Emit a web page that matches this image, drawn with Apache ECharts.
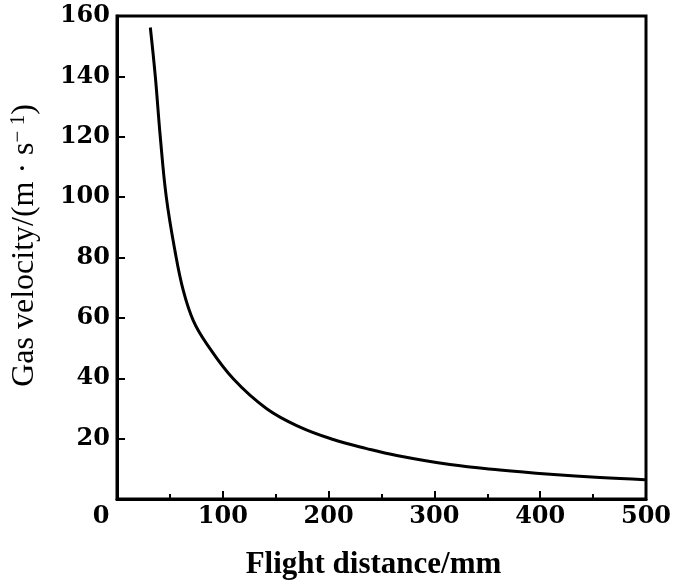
<!DOCTYPE html>
<html>
<head>
<meta charset="utf-8">
<script src="https://cdn.jsdelivr.net/npm/echarts@6/dist/echarts.min.js"></script>
<style>
  html, body { margin: 0; padding: 0; background: #fff; }
  #main { width: 686px; height: 582px; }
</style>
</head>
<body>
<div id="main"></div>
<script>
// flight distance (mm) and gas velocity (m/s)
var distance = [31.5, 36.2, 40.9, 46.6, 54.8, 62.7, 72.1, 84.8, 109.9, 141.5, 173, 204.4, 236, 264.4, 314.7, 362, 409.3, 456.5, 499];
var velocity = [156.2, 140, 120, 100, 82.2, 69, 59.1, 51.4, 39.8, 29.9, 23.8, 19.7, 16.7, 14.4, 11.4, 9.6, 8.2, 7.1, 6.4];
var xTicks = [0, 100, 200, 300, 400, 500];
var yTicks = [20, 40, 60, 80, 100, 120, 140, 160];

var points = distance.map(function (d, i) { return [d, velocity[i]]; });
var font = 'Liberation Serif';
var numFont = 'DejaVu Serif';

var myChart = echarts.init(document.getElementById('main'));
var option = {
  animation: false,
  grid: {
    left: 117, right: 40, top: 16, bottom: 83,
    outerBoundsMode: 'none',
    containLabel: false,
    show: true, borderColor: '#000', borderWidth: 3, backgroundColor: 'transparent'
  },
  xAxis: {
    type: 'value',
    min: 0, max: 500, interval: 100,
    name: 'Flight distance/mm',
    nameLocation: 'middle',
    nameGap: 50,
    nameTextStyle: { fontFamily: font, fontSize: 31, fontWeight: 'bold', color: '#000', padding: [0, 16, 0, 0] },
    axisLine: { show: true, lineStyle: { color: '#000', width: 3 } },
    axisTick: { show: true, inside: true, length: 8, lineStyle: { color: '#000', width: 2 } },
    minorTick: { show: true, splitNumber: 2, length: 5, lineStyle: { color: '#000', width: 2 } },
    splitLine: { show: false },
    axisLabel: {
      margin: 6,
      fontFamily: numFont, fontSize: 24, fontWeight: 'bold', color: '#000',
      formatter: function (v) {
        if (xTicks.indexOf(v) < 0) return '';
        return v === 0 ? '{z|0}' : String(v);
      },
      rich: { z: { fontFamily: numFont, fontSize: 24, fontWeight: 'bold', color: '#000', padding: [0, 32, 0, 0] } }
    }
  },
  yAxis: {
    type: 'value',
    min: 0, max: 160, interval: 20,
    name: '{t|Gas velocity/(m · s}{s|− 1}{t|)}',
    nameLocation: 'middle',
    nameGap: 76,
    nameTextStyle: {
      padding: [0, 0, 0, 24],
      rich: {
        t: { fontFamily: font, fontSize: 32, color: '#000' },
        s: { fontFamily: font, fontSize: 21, color: '#000', verticalAlign: 'top', padding: [0, 0, 12, 0] }
      }
    },
    axisLine: { show: true, lineStyle: { color: '#000', width: 3 } },
    axisTick: { show: true, inside: true, length: 8, lineStyle: { color: '#000', width: 2 } },
    splitLine: { show: false },
    axisLabel: {
      margin: 7,
      fontFamily: numFont, fontSize: 24, fontWeight: 'bold', color: '#000',
      formatter: function (v) { return yTicks.indexOf(v) < 0 ? '' : String(v); }
    }
  },
  series: [{
    type: 'line',
    data: points,
    smooth: 0.4,
    symbol: 'none',
    lineStyle: { color: '#000', width: 3 }
  }]
};
myChart.setOption(option);
</script>
</body>
</html>
